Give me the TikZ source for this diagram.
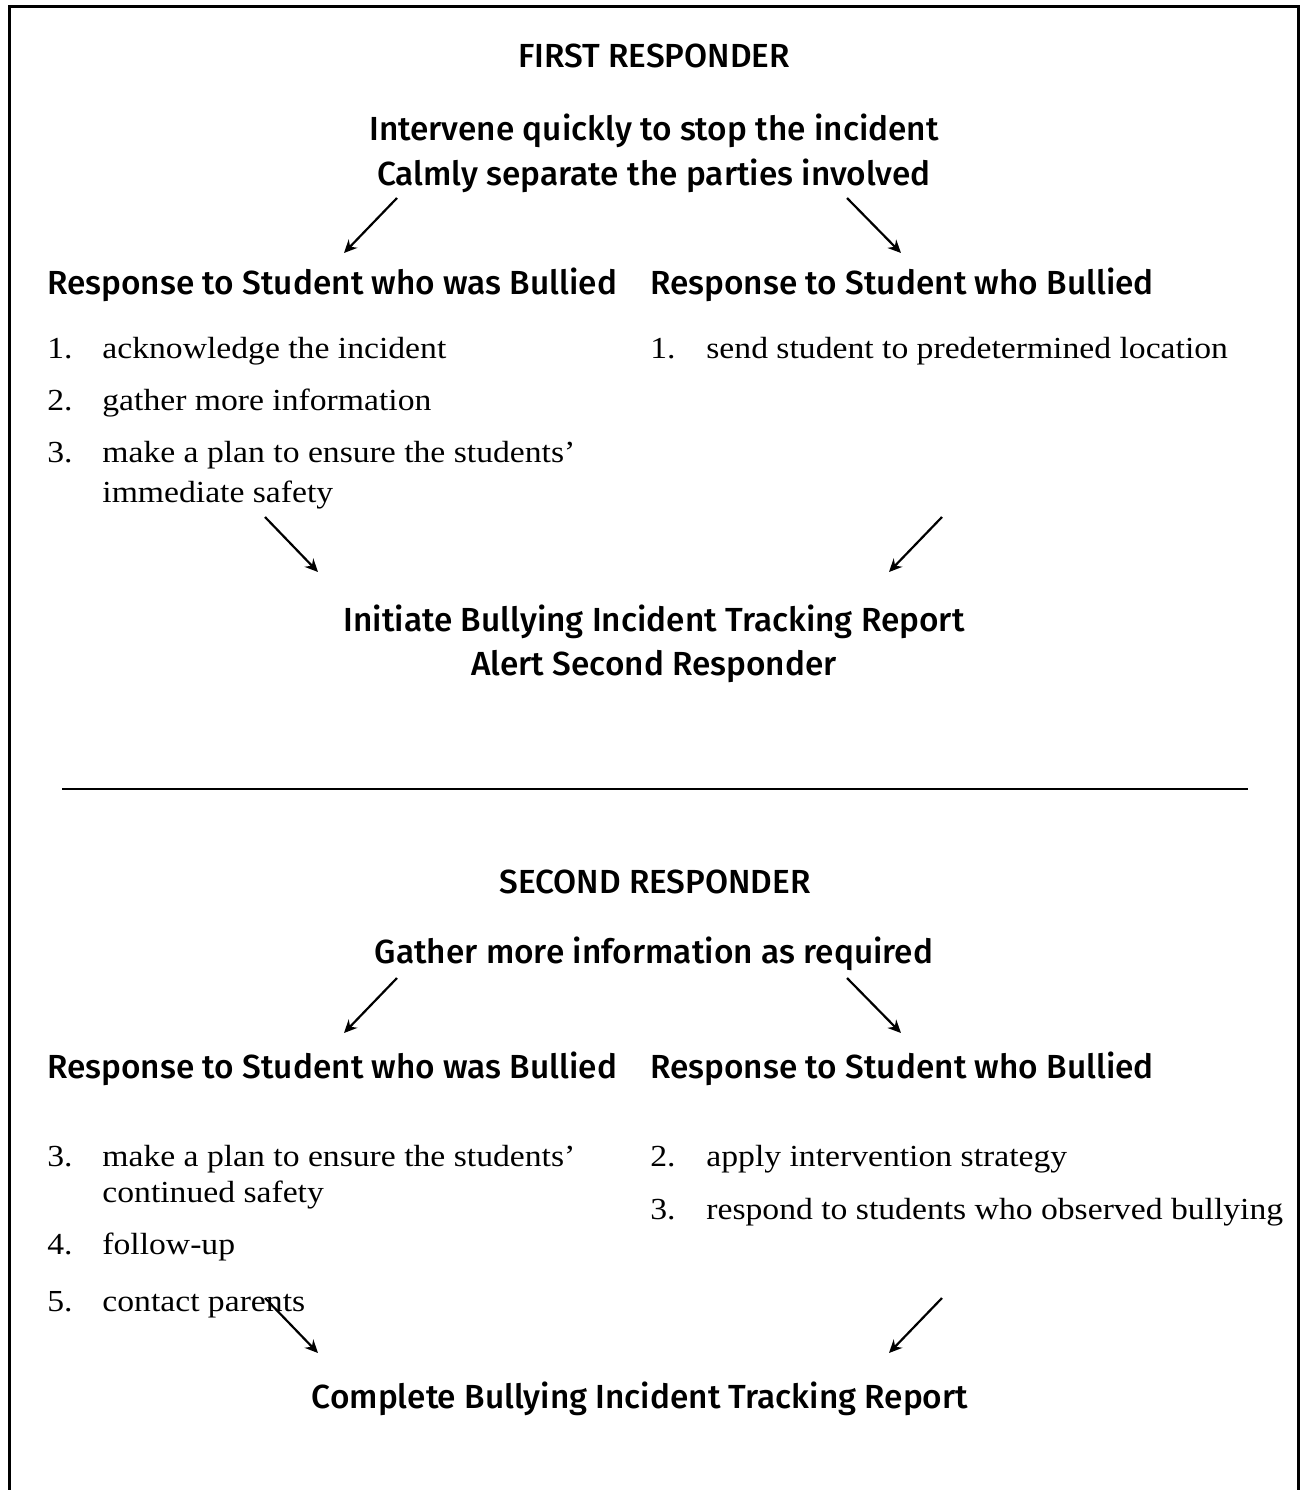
\documentclass[tikz,border=0pt]{standalone}
\usepackage{fontspec}
\setmainfont{Liberation Serif}[FakeStretch=1.1]
\newfontfamily\hfont{Fira Sans}[UprightFont=* Medium]
\usetikzlibrary{arrows.meta}
\tikzset{
  head/.style={font=\hfont\fontsize{16.7}{20}\selectfont, inner sep=0pt, anchor=base},
  item/.style={font=\fontsize{15.3}{18}\selectfont, inner sep=0pt, anchor=base west},
  conn/.style={line width=1.1pt, -{Stealth[length=6.5pt,width=6pt]}},
  frame/.style={line width=1.5pt},
}
\begin{document}
\begin{tikzpicture}[x=0.5pt,y=-0.5pt]
\useasboundingbox (0,0) rectangle (1301,1490);
\draw[frame] (9,1492) -- (9,6) -- (1298,6) -- (1298,1492);
% ---------- first responder
\node[head] (t1) at (654,67) {FIRST RESPONDER};
\node[head] (a1) at (654,140) {Intervene quickly to stop the incident};
\node[head] (a2) at (654,185) {Calmly separate the parties involved};
\node[head, anchor=base west] (hl1) at (47,294) {Response to Student who was Bullied};
\node[head, anchor=base west] (hr1) at (650,294) {Response to Student who Bullied};
\node[item] (l1n) at (47,358) {1.};
\node[item] (l1t) at (102,358) {acknowledge the incident};
\node[item] (l2n) at (47,410) {2.};
\node[item] (l2t) at (102,410) {gather more information};
\node[item] (l3n) at (47,462) {3.};
\node[item] (l3t) at (102,462) {make a plan to ensure the students’};
\node[item] (l3u) at (102,502) {immediate safety};
\node[item] (r1n) at (650,358) {1.};
\node[item] (r1t) at (706,358) {send student to predetermined location};
\node[head] (b1) at (654,631) {Initiate Bullying Incident Tracking Report};
\node[head] (b2) at (654,675) {Alert Second Responder};
\coordinate (s1) at (397,198); \coordinate (e1) at (344,253);
\coordinate (s2) at (847,198); \coordinate (e2) at (901,253);
\coordinate (s3) at (265,517); \coordinate (e3) at (318,572);
\coordinate (s4) at (942,517); \coordinate (e4) at (889,572);
\draw[conn] (s1) -- (e1);
\draw[conn] (s2) -- (e2);
\draw[conn] (s3) -- (e3);
\draw[conn] (s4) -- (e4);
% ---------- rule
\coordinate (ra) at (62,789); \coordinate (rb) at (1248,789);
\draw[line width=1.2pt] (ra) -- (rb);
% ---------- second responder
\node[head] (t2) at (655,893) {SECOND RESPONDER};
\node[head] (c1) at (654,963) {Gather more information as required};
\node[head, anchor=base west] (hl2) at (47,1078) {Response to Student who was Bullied};
\node[head, anchor=base west] (hr2) at (650,1078) {Response to Student who Bullied};
\node[item] (m3n) at (47,1166) {3.};
\node[item] (m3t) at (102,1166) {make a plan to ensure the students’};
\node[item] (m3u) at (102,1202) {continued safety};
\node[item] (m4n) at (47,1254) {4.};
\node[item] (m4t) at (102,1254) {follow-up};
\node[item] (m5n) at (47,1311) {5.};
\node[item] (m5t) at (102,1311) {contact parents};
\node[item] (q2n) at (650,1166) {2.};
\node[item] (q2t) at (706,1166) {apply intervention strategy};
\node[item] (q3n) at (650,1219) {3.};
\node[item] (q3t) at (706,1219) {respond to students who observed bullying};
\node[head] (d1) at (640,1408) {Complete Bullying Incident Tracking Report};
\coordinate (s5) at (397,978); \coordinate (e5) at (344,1033);
\coordinate (s6) at (847,978); \coordinate (e6) at (901,1033);
\coordinate (s7) at (265,1298); \coordinate (e7) at (318,1353);
\coordinate (s8) at (942,1298); \coordinate (e8) at (889,1353);
\draw[conn] (s5) -- (e5);
\draw[conn] (s6) -- (e6);
\draw[conn] (s7) -- (e7);
\draw[conn] (s8) -- (e8);
\end{tikzpicture}
\end{document}
